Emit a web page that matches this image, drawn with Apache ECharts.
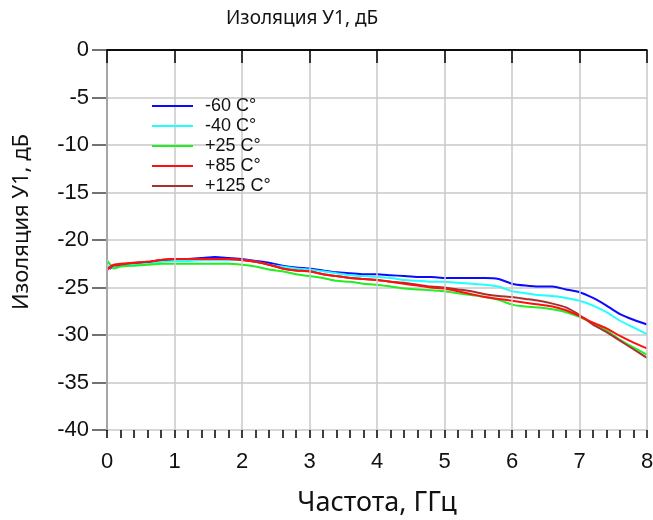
<!DOCTYPE html>
<html>
<head>
<meta charset="utf-8">
<script src="https://cdn.jsdelivr.net/npm/echarts@6/dist/echarts.min.js"></script>
<style>
  html, body { margin: 0; padding: 0; background: #fff; }
  #chart { width: 653px; height: 520px; }
</style>
</head>
<body>
<div id="chart"></div>
<script>
// Frequency points, GHz
const freq = [0, 0.05, 0.1, 0.2, 0.4, 0.6, 0.8, 1.0, 1.2, 1.4, 1.6, 1.8, 2.0, 2.2, 2.4, 2.6, 2.8, 3.0,
  3.2, 3.4, 3.6, 3.8, 4.0, 4.2, 4.4, 4.6, 4.8, 5.0, 5.2, 5.4, 5.6, 5.8, 6.0, 6.2, 6.4, 6.6, 6.8, 7.0,
  7.2, 7.4, 7.6, 7.8, 8.0];

// Isolation, dB, per temperature
const isoM60 = [-22.8, -23.0, -22.7, -22.6, -22.5, -22.4, -22.2, -22.1, -22.0, -21.9, -21.8, -21.9, -22.0,
  -22.2, -22.4, -22.7, -22.9, -23.0, -23.2, -23.4, -23.5, -23.6, -23.6, -23.7, -23.8, -23.9, -23.9, -24.0,
  -24.0, -24.0, -24.0, -24.1, -24.6, -24.8, -24.9, -24.9, -25.2, -25.5, -26.1, -26.9, -27.8, -28.4, -28.9];
const isoM40 = [-22.6, -22.9, -22.8, -22.7, -22.6, -22.5, -22.3, -22.2, -22.2, -22.1, -22.1, -22.1, -22.1,
  -22.3, -22.6, -22.8, -23.0, -23.1, -23.3, -23.5, -23.7, -23.8, -23.9, -24.0, -24.2, -24.3, -24.4, -24.4,
  -24.5, -24.6, -24.7, -24.9, -25.4, -25.6, -25.8, -25.9, -26.1, -26.4, -26.9, -27.6, -28.5, -29.2, -29.9];
const isoP25 = [-22.1, -22.6, -23.0, -22.8, -22.7, -22.6, -22.5, -22.5, -22.5, -22.5, -22.5, -22.5, -22.6,
  -22.8, -23.1, -23.3, -23.6, -23.8, -24.0, -24.3, -24.4, -24.6, -24.7, -24.9, -25.1, -25.2, -25.3, -25.4,
  -25.6, -25.8, -26.0, -26.3, -26.8, -27.0, -27.1, -27.3, -27.6, -28.1, -28.8, -29.5, -30.5, -31.3, -32.1];
const isoP85 = [-23.2, -22.8, -22.6, -22.5, -22.4, -22.3, -22.1, -22.0, -22.0, -22.0, -22.0, -22.0, -22.1,
  -22.3, -22.6, -23.0, -23.2, -23.3, -23.6, -23.8, -24.0, -24.1, -24.2, -24.4, -24.6, -24.8, -25.0, -25.1,
  -25.4, -25.7, -26.0, -26.2, -26.4, -26.6, -26.8, -27.0, -27.4, -28.0, -28.7, -29.3, -30.1, -30.8, -31.4];
const isoP125 = [-23.0, -22.9, -22.7, -22.6, -22.4, -22.3, -22.1, -22.0, -22.0, -22.0, -22.0, -22.0, -22.1,
  -22.3, -22.6, -23.0, -23.2, -23.3, -23.6, -23.8, -24.0, -24.1, -24.2, -24.4, -24.5, -24.7, -24.9, -25.0,
  -25.2, -25.4, -25.7, -25.9, -26.0, -26.2, -26.4, -26.7, -27.1, -27.9, -28.9, -29.7, -30.6, -31.5, -32.4];

const seriesNames = ['-60 C°', '-40 C°', '+25 C°', '+85 C°', '+125 C°'];
const seriesData = [isoM60, isoM40, isoP25, isoP85, isoP125];
const seriesColors = ['#0a0aff', '#22ffff', '#22ee22', '#ff1010', '#aa3030'];

const tickFont = 'Liberation Sans, Arial, sans-serif';
const nameFont = 'Noto Sans, sans-serif';

const chart = echarts.init(document.getElementById('chart'));

// draw the +125 curve beneath +85
const drawOrder = [0, 1, 2, 4, 3];
const series = drawOrder.map(i => ({
  name: seriesNames[i],
  type: 'line',
  data: freq.map((f, k) => [f, seriesData[i][k]]),
  symbol: 'none',
  smooth: 0.2,
  lineStyle: { width: 2, color: seriesColors[i] },
  itemStyle: { color: seriesColors[i] },
  z: 3
}));

// black frame line along the 0 dB level
series[0].markLine = {
  silent: true,
  symbol: 'none',
  label: { show: false },
  lineStyle: { color: '#000', width: 1.5, type: 'solid' },
  data: [{ yAxis: 0 }]
};

chart.setOption({
  animation: false,
  backgroundColor: '#fff',
  title: {
    text: 'Изоляция У1, дБ',
    left: 221,
    top: 4,
    textStyle: { fontFamily: nameFont, fontSize: 19, fontWeight: 'normal', color: '#111' }
  },
  legend: {
    orient: 'vertical',
    left: 147,
    top: 92,
    icon: 'rect',
    itemWidth: 41,
    itemHeight: 2,
    itemGap: 2,
    data: seriesNames,
    textStyle: { fontFamily: tickFont, fontSize: 18, color: '#111', lineHeight: 18, padding: [0, 0, 0, 7] }
  },
  grid: { left: 107, right: 6, top: 50, bottom: 90, outerBoundsMode: 'none' },
  xAxis: [{
    type: 'value',
    min: 0, max: 8, interval: 1,
    name: 'Частота, ГГц',
    nameLocation: 'middle',
    nameGap: 60,
    nameTextStyle: { fontFamily: nameFont, fontSize: 27, color: '#111' },
    axisLine: { show: true, lineStyle: { color: '#000', width: 1.5 } },
    axisTick: { show: true, length: 13, lineStyle: { color: '#000', width: 1.5 } },
    axisLabel: { fontFamily: tickFont, fontSize: 22, color: '#111', margin: 21 },
    splitLine: { show: true, lineStyle: { color: '#c8c8c8', width: 1.5 } },
    z: 4
  }, {
    // 0.2 GHz subdivision ticks along the bottom edge
    type: 'value',
    position: 'bottom',
    min: 0, max: 8, interval: 0.2,
    axisLine: { show: false },
    axisTick: { show: true, length: 8, lineStyle: { color: '#000', width: 1.5 } },
    axisLabel: { show: false },
    splitLine: { show: false }
  }],
  yAxis: {
    type: 'value',
    min: -40, max: 0, interval: 5,
    name: 'Изоляция У1, дБ',
    nameLocation: 'middle',
    nameRotate: 90,
    nameGap: 74,
    nameTextStyle: { fontFamily: nameFont, fontSize: 22, color: '#111', padding: [0, 0, 0, 36] },
    axisLine: { show: true, onZero: false, lineStyle: { color: '#000', width: 1.5 } },
    axisTick: { show: true, length: 15, lineStyle: { color: '#444', width: 1.5 } },
    axisLabel: { fontFamily: tickFont, fontSize: 22, color: '#111', margin: 18 },
    splitLine: { show: true, lineStyle: { color: '#c8c8c8', width: 1.5 } }
  },
  series: series
});
</script>
</body>
</html>
